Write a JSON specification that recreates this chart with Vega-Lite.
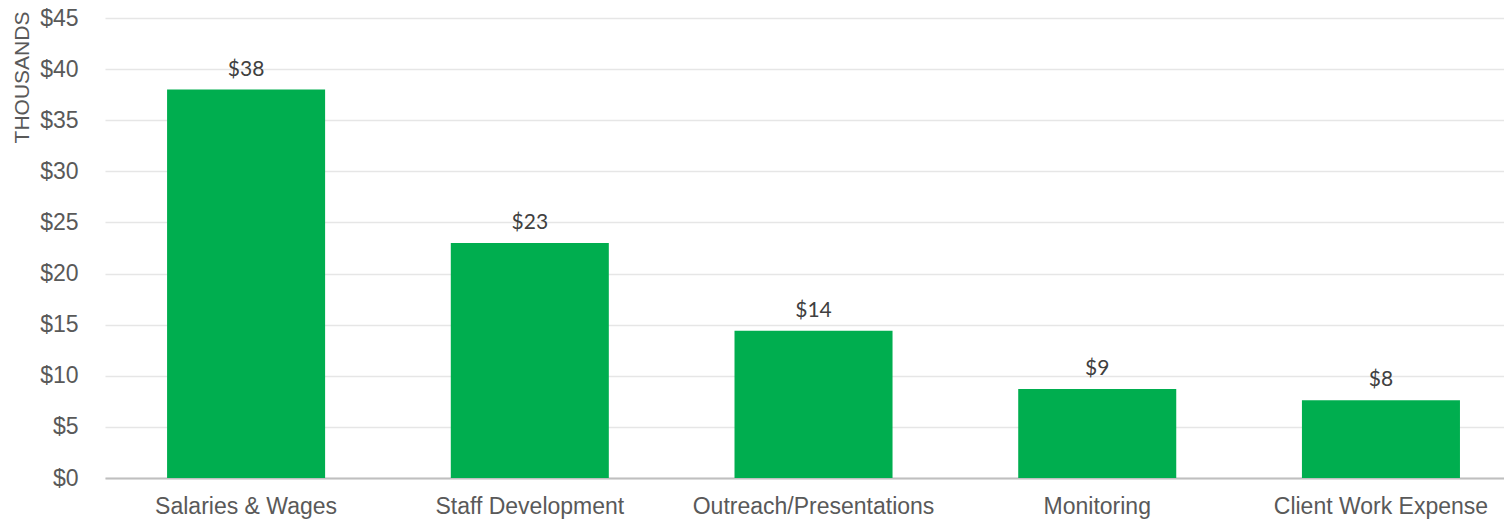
{
  "$schema": "https://vega.github.io/schema/vega-lite/v6.json",
  "width": 1399,
  "height": 460,
  "autosize": {"type": "none"},
  "padding": {"left": 105, "top": 18, "right": 0, "bottom": 41},
  "background": "white",
  "data": {
    "values": [
      {"category": "Salaries & Wages", "value": 38.0, "label": "$38"},
      {"category": "Staff Development", "value": 23.0, "label": "$23"},
      {"category": "Outreach/Presentations", "value": 14.4, "label": "$14"},
      {"category": "Monitoring", "value": 8.7, "label": "$9"},
      {"category": "Client Work Expense", "value": 7.6, "label": "$8"}
    ]
  },
  "config": {
    "view": {"stroke": null},
    "axis": {"labelFont": "Liberation Sans", "titleFont": "Liberation Sans"}
  },
  "encoding": {
    "x": {
      "field": "category",
      "type": "nominal",
      "sort": null,
      "scale": {"paddingInner": 0.443, "paddingOuter": 0.187, "align": 0.585},
      "axis": {
        "title": null,
        "labelAngle": 0,
        "labelFontSize": 23,
        "labelColor": "#595959",
        "labelPadding": 17,
        "labelLimit": 0,
        "ticks": false,
        "domainColor": "#bfbfbf",
        "domainWidth": 2,
        "grid": false
      }
    },
    "y": {
      "field": "value",
      "type": "quantitative",
      "scale": {"domain": [0, 45], "nice": false},
      "axis": {
        "values": [0, 5, 10, 15, 20, 25, 30, 35, 40, 45],
        "labelExpr": "'$' + datum.value",
        "labelFontSize": 23,
        "labelColor": "#595959",
        "labelPadding": 27,
        "ticks": false,
        "domain": false,
        "gridColor": "#e6e6e6",
        "gridWidth": 1.5,
        "title": "THOUSANDS",
        "titleFontSize": 21,
        "titleFontWeight": "normal",
        "titleColor": "#595959",
        "titleAngle": 270,
        "titleX": -83,
        "titleY": 59,
        "titleAlign": "center",
        "titleBaseline": "middle"
      }
    }
  },
  "layer": [
    {"mark": {"type": "bar", "color": "#00ae4f"}},
    {
      "mark": {"type": "text", "baseline": "bottom", "dy": -10, "font": "Lato", "fontSize": 21, "color": "#404040"},
      "encoding": {"text": {"field": "label"}}
    }
  ]
}
